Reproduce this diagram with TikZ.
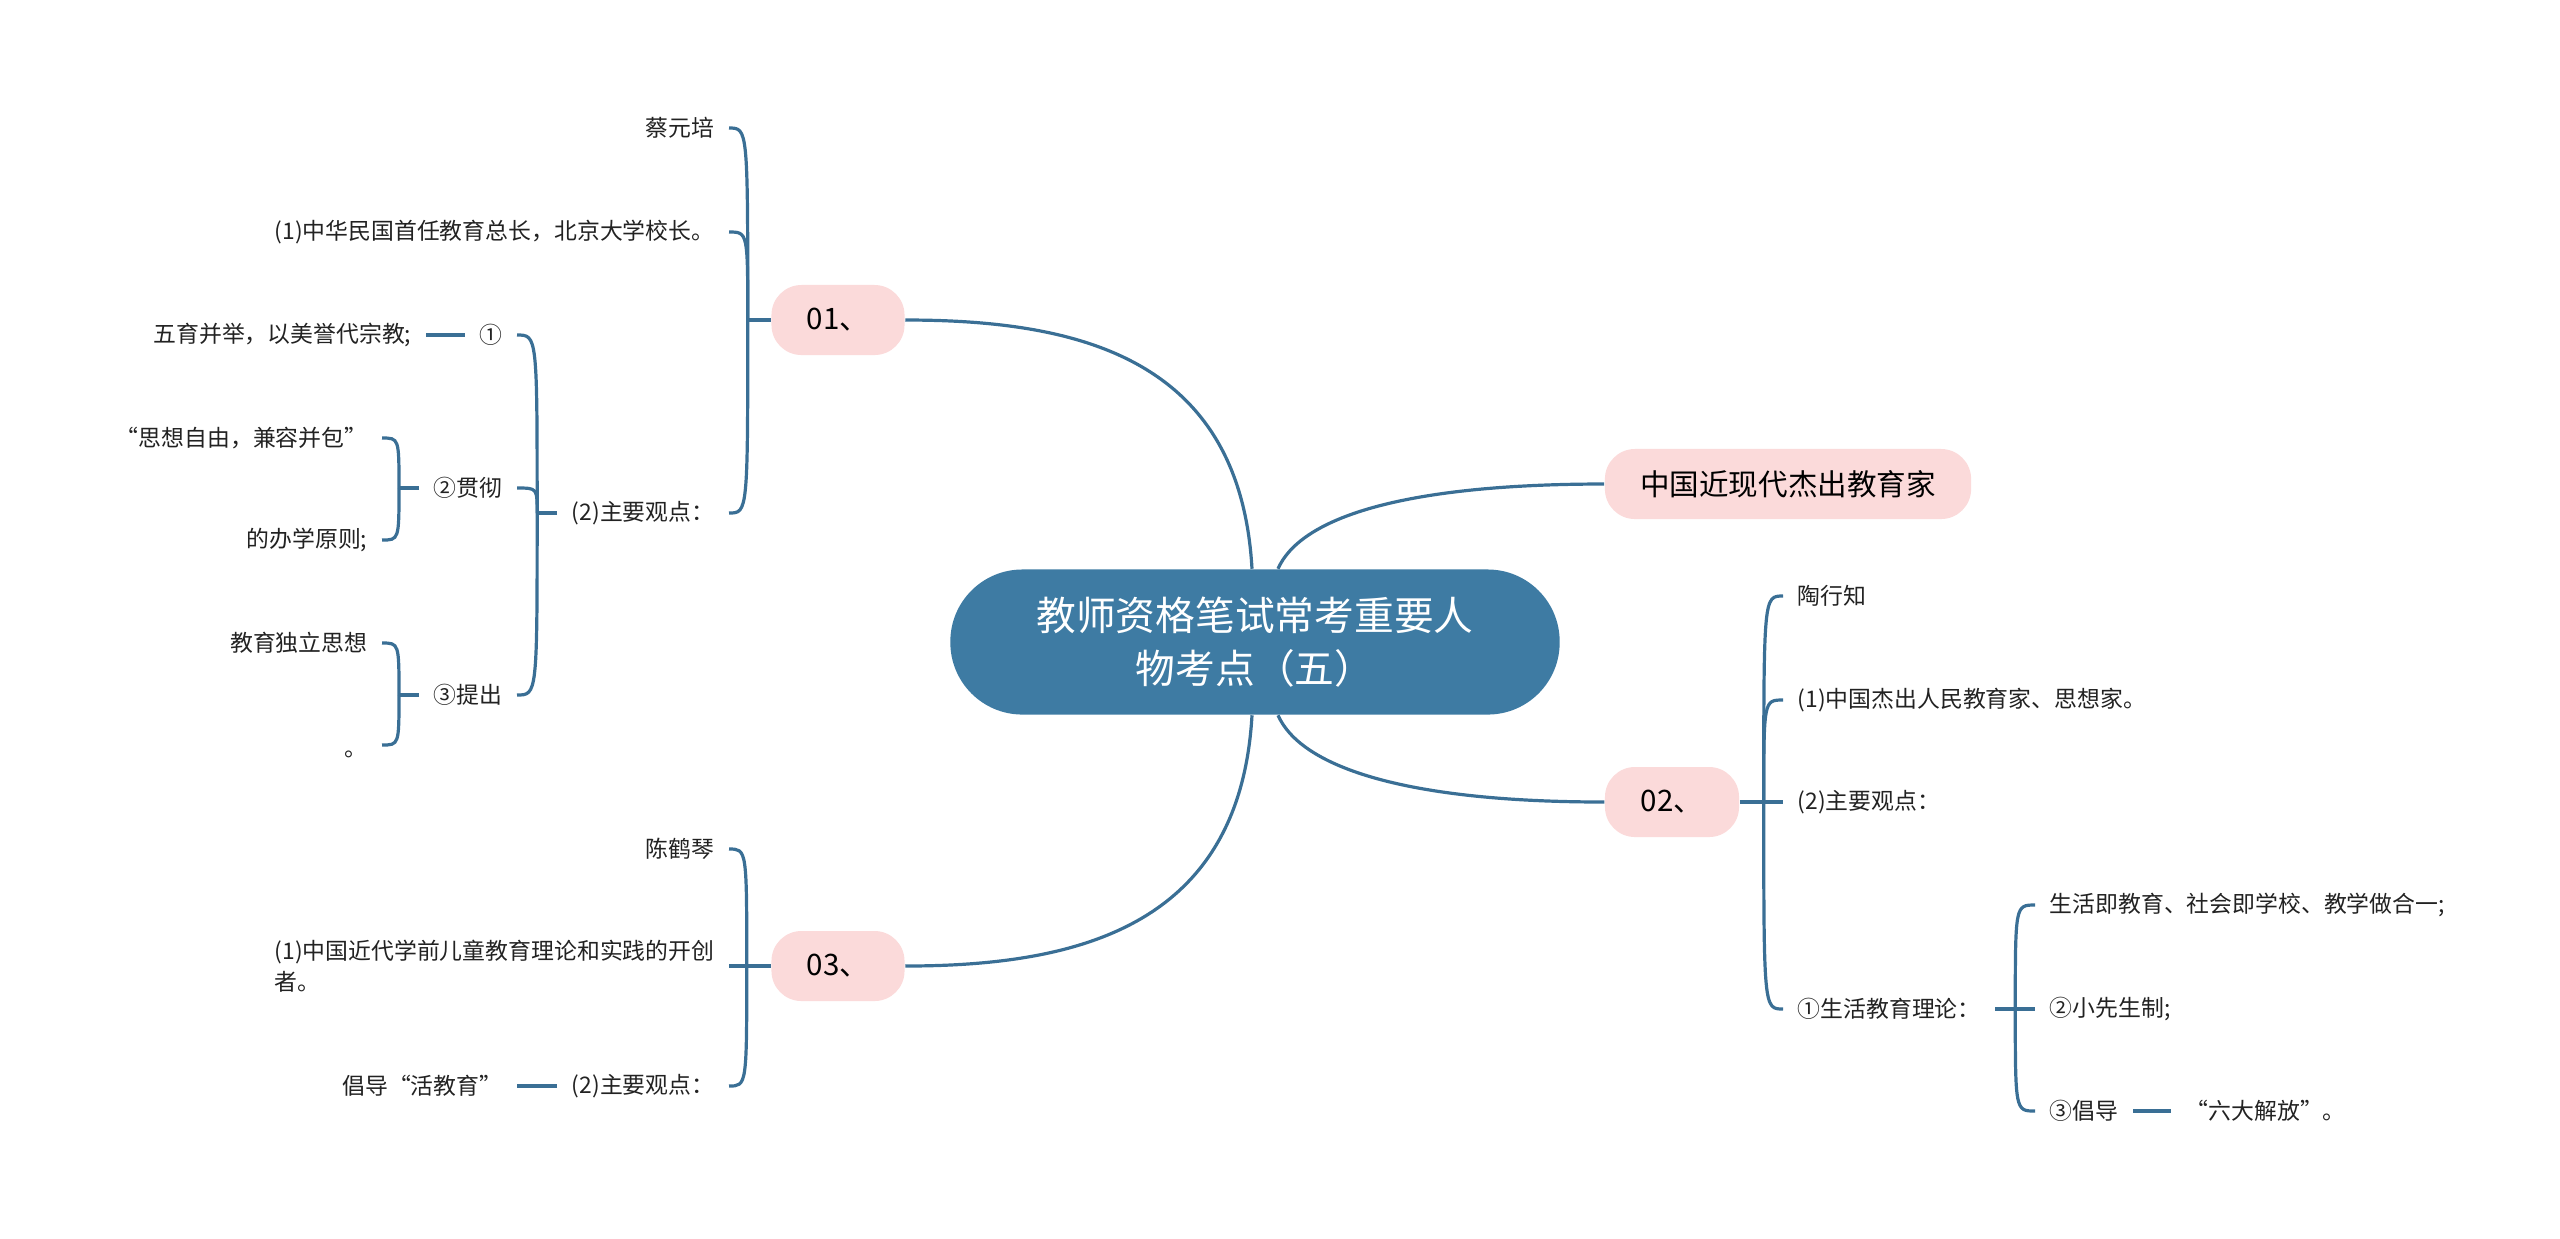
\documentclass[tikz,border=0pt]{standalone}
\usepackage{fontspec}
\setmainfont{Noto Sans CJK SC}
\definecolor{rootblue}{HTML}{3E7BA3}
\definecolor{linkblue}{HTML}{3A6F95}
\definecolor{topicpink}{HTML}{FBDADA}
\definecolor{leaftext}{HTML}{222222}
\begin{document}
\begin{tikzpicture}[x=0.01cm, y=-0.01cm,
	link/.style={draw=linkblue, line width=0.032cm},
	root/.style={fill=rootblue, text=white, rounded corners=0.72cm, minimum width=6.09cm, minimum height=1.45cm, align=center, font=\fontsize{11.3pt}{15pt}\selectfont},
	topic/.style={fill=topicpink, text=black, rounded corners=0.3cm, minimum height=0.7cm, inner sep=0pt, font=\fontsize{8.4pt}{10pt}\selectfont},
	leaf/.style={text=leaftext, inner xsep=0.14cm, inner ysep=0.04cm, font=\fontsize{6.5pt}{9pt}\selectfont}]
	% 0. 画布范围
	\useasboundingbox (0,0) rectangle (2560,1238);
	
	% 1. 中心主题与一级分支
	\node[root] (root) at (1255,642) {教师资格笔试常考重要人\\物考点（五）};
	\node[topic, minimum width=1.33cm] (n01) at (838,320) {01、};
	\node[topic, minimum width=3.66cm] (nzg) at (1788,484) {中国近现代杰出教育家};
	\node[topic, minimum width=1.34cm] (n02) at (1672,802) {02、};
	\node[topic, minimum width=1.33cm] (n03) at (838,966) {03、};
	
	\draw[link] ([xshift=-0.03cm]root.north) .. controls +(-12,-210) and +(175,0) .. (n01.east);
	\draw[link] ([xshift=0.23cm]root.north) .. controls +(22,-50) and +(-205,0) .. (nzg.west);
	\draw[link] ([xshift=0.23cm]root.south) .. controls +(22,50) and +(-205,0) .. (n02.west);
	\draw[link] ([xshift=-0.03cm]root.south) .. controls +(-12,210) and +(175,0) .. (n03.east);
	
	% 2. 01、 蔡元培
	\path (n01.west) ++(-23,0) coordinate (j01);
	\node[leaf, anchor=east] (cai) at (729,128) {蔡元培};
	\node[leaf, anchor=east] (p011) at (729,232) {(1)中华民国首任教育总长，北京大学校长。};
	\node[leaf, anchor=east] (p012) at (729,513) {(2)主要观点：};
	\draw[link] (n01.west) -- (j01);
	\draw[link] (j01) .. controls (j01 |- cai.east) .. (cai.east);
	\draw[link] (j01) .. controls (j01 |- p011.east) .. (p011.east);
	\draw[link] (j01) .. controls (j01 |- p012.east) .. (p012.east);
	
	\path (p012.west) ++(-20,0) coordinate (j012);
	\node[leaf, anchor=east] (d1) at (517,335) {①};
	\node[leaf, anchor=east] (d2) at (517,488) {②贯彻};
	\node[leaf, anchor=east] (d3) at (517,695) {③提出};
	\draw[link] (p012.west) -- (j012);
	\draw[link] (j012) .. controls (j012 |- d1.east) .. (d1.east);
	\draw[link] (j012) .. controls (j012 |- d2.east) .. (d2.east);
	\draw[link] (j012) .. controls (j012 |- d3.east) .. (d3.east);
	
	\node[leaf, anchor=east] (wuyu) at (426,335) {五育并举，以美誉代宗教;};
	\draw[link] (d1.west) -- (wuyu.east);
	
	\path (d2.west) ++(-20,0) coordinate (j2);
	\node[leaf, anchor=east] (sxzy) at (382,438) {“思想自由，兼容并包”};
	\node[leaf, anchor=east] (bxyz) at (382,540) {的办学原则;};
	\draw[link] (d2.west) -- (j2);
	\draw[link] (j2) .. controls (j2 |- sxzy.east) .. (sxzy.east);
	\draw[link] (j2) .. controls (j2 |- bxyz.east) .. (bxyz.east);
	
	\path (d3.west) ++(-20,0) coordinate (j3);
	\node[leaf, anchor=east] (dlsx) at (382,643) {教育独立思想};
	\node[leaf, anchor=east, text height=0.8em, text depth=0.15em] (jhao) at (382,745) {。};
	\draw[link] (d3.west) -- (j3);
	\draw[link] (j3) .. controls (j3 |- dlsx.east) .. (dlsx.east);
	\draw[link] (j3) .. controls (j3 |- jhao.east) .. (jhao.east);
	
	% 3. 02、 陶行知
	\path (n02.east) ++(24,0) coordinate (j02);
	\node[leaf, anchor=west] (tao) at (1783,596) {陶行知};
	\node[leaf, anchor=west] (q021) at (1783,700) {(1)中国杰出人民教育家、思想家。};
	\node[leaf, anchor=west] (q022) at (1783,802) {(2)主要观点：};
	\node[leaf, anchor=west] (q023) at (1783,1009) {①生活教育理论：};
	\draw[link] (n02.east) -- (j02);
	\draw[link] (j02) .. controls (j02 |- tao.west) .. (tao.west);
	\draw[link] (j02) .. controls (j02 |- q021.west) .. (q021.west);
	\draw[link] (j02) -- (q022.west);
	\draw[link] (j02) .. controls (j02 |- q023.west) .. (q023.west);
	
	\path (q023.east) ++(20,0) coordinate (j023);
	\node[leaf, anchor=west] (shjy) at (2035,905) {生活即教育、社会即学校、教学做合一;};
	\node[leaf, anchor=west] (xxsz) at (2035,1009) {②小先生制;};
	\node[leaf, anchor=west] (cdao) at (2035,1111) {③倡导};
	\node[leaf, anchor=west] (ldjf) at (2171,1111) {“六大解放”。};
	\draw[link] (q023.east) -- (j023);
	\draw[link] (j023) .. controls (j023 |- shjy.west) .. (shjy.west);
	\draw[link] (j023) -- (xxsz.west);
	\draw[link] (j023) .. controls (j023 |- cdao.west) .. (cdao.west);
	\draw[link] (cdao.east) -- (ldjf.west);
	
	% 4. 03、 陈鹤琴
	\path (n03.west) ++(-24,0) coordinate (j03);
	\node[leaf, anchor=east] (chen) at (729,849) {陈鹤琴};
	\node[leaf, anchor=east, align=left] (p031) at (729,966) {(1)中国近代学前儿童教育理论和实践的开创\\者。};
	\node[leaf, anchor=east] (p032) at (729,1086) {(2)主要观点：};
	\draw[link] (n03.west) -- (j03);
	\draw[link] (j03) .. controls (j03 |- chen.east) .. (chen.east);
	\draw[link] (j03) -- (p031.east);
	\draw[link] (j03) .. controls (j03 |- p032.east) .. (p032.east);
	
	\node[leaf, anchor=east] (hjy) at (517,1086) {倡导“活教育”};
	\draw[link] (p032.west) -- (hjy.east);
\end{tikzpicture}
\end{document}
